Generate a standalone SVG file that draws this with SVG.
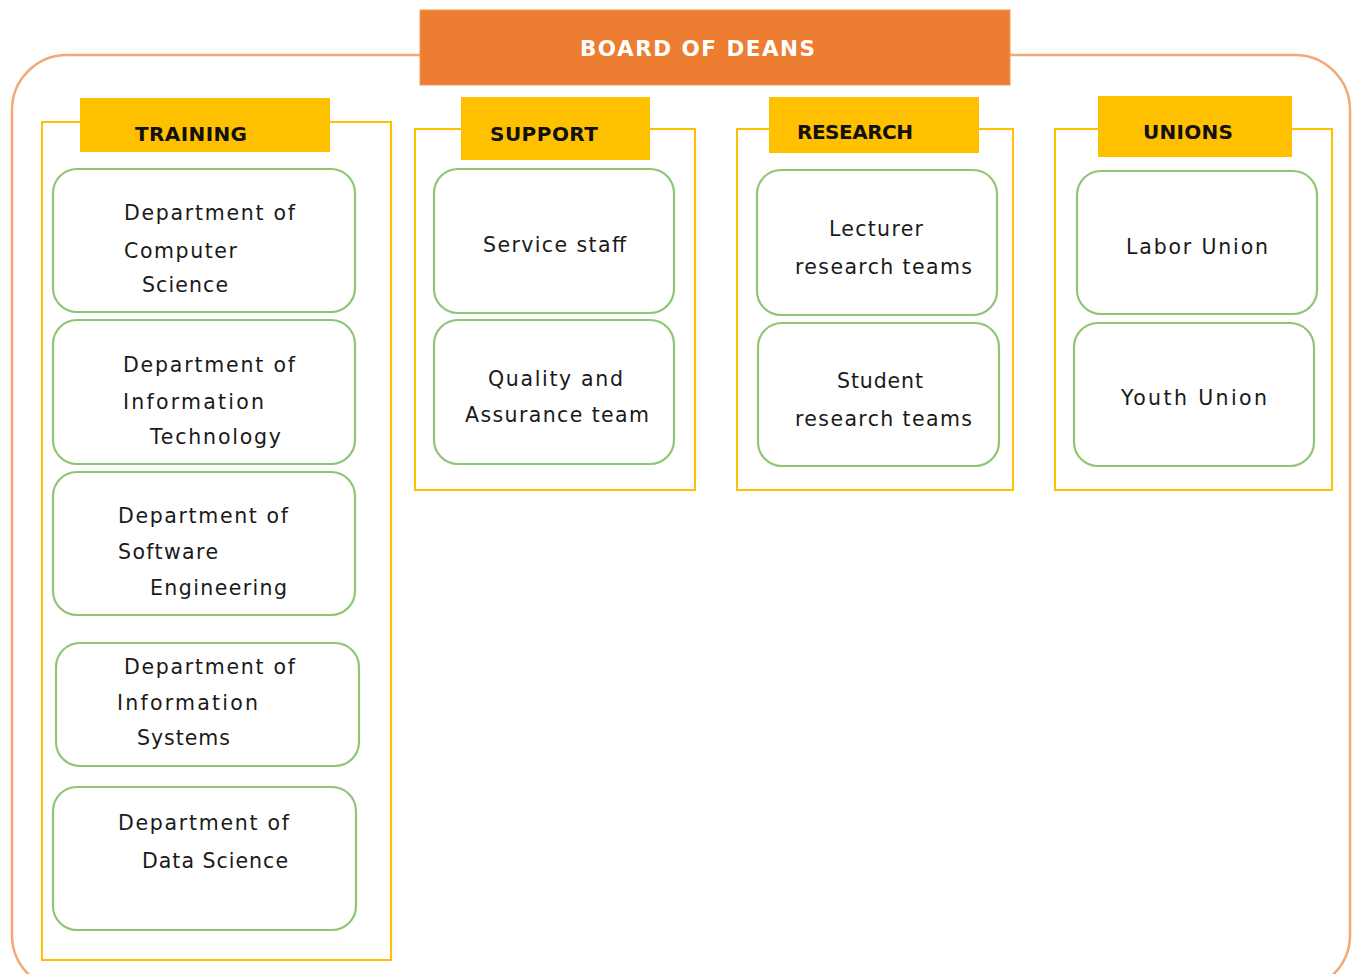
<svg xmlns="http://www.w3.org/2000/svg" width="1358" height="974" viewBox="0 0 1358 974">
  <style>
    .frame { fill: none; stroke: #F3A877; stroke-width: 2.5; }
    .board { fill: #ED7D31; stroke: #F19A5E; stroke-width: 1; }
    .board-text { font-family: "DejaVu Sans", Verdana, sans-serif; font-weight: bold; font-size: 21.5px; fill: #FFFFFF; }
    .panel { fill: none; stroke: #FFC000; stroke-width: 2; }
    .tab { fill: #FFC000; }
    .tab-text { font-family: "DejaVu Sans", Verdana, sans-serif; font-weight: bold; font-size: 20px; fill: #111111; }
    .unit { fill: #FFFFFF; stroke: #8FC573; stroke-width: 2.2; }
    .unit-text { font-family: "DejaVu Sans", Verdana, sans-serif; font-size: 20.5px; fill: #1A1A1A; }
  </style>

  <rect width="1358" height="974" fill="#FFFFFF"/>

  <!-- outer faculty frame -->
  <g id="frame">
    <rect class="frame" x="12" y="55" width="1338" height="935" rx="55" ry="55"/>
  </g>

  <!-- top node -->
  <g id="board-of-deans">
    <rect class="board" x="420" y="10" width="590" height="75"/>
    <text class="board-text" x="580" y="56" textLength="235" lengthAdjust="spacing">BOARD OF DEANS</text>
  </g>

  <!-- TRAINING column -->
  <g id="training">
    <rect class="panel" x="42" y="122" width="349" height="838"/>
    <rect class="tab" x="80" y="98" width="250" height="54"/>
    <text class="tab-text" x="135" y="141" textLength="112" lengthAdjust="spacing">TRAINING</text>
  </g>
  <g id="dept-computer-science">
    <rect class="unit" x="53" y="169" width="302" height="143" rx="24"/>
    <text class="unit-text" x="124" y="220" textLength="171" lengthAdjust="spacing">Department of</text>
    <text class="unit-text" x="124" y="258" textLength="113" lengthAdjust="spacing">Computer</text>
    <text class="unit-text" x="142" y="292" textLength="86" lengthAdjust="spacing">Science</text>
  </g>
  <g id="dept-information-technology">
    <rect class="unit" x="53" y="320" width="302" height="144" rx="24"/>
    <text class="unit-text" x="123" y="372" textLength="172" lengthAdjust="spacing">Department of</text>
    <text class="unit-text" x="123" y="409" textLength="141" lengthAdjust="spacing">Information</text>
    <text class="unit-text" x="150" y="444" textLength="131" lengthAdjust="spacing">Technology</text>
  </g>
  <g id="dept-software-engineering">
    <rect class="unit" x="53" y="472" width="302" height="143" rx="24"/>
    <text class="unit-text" x="118" y="523" textLength="170" lengthAdjust="spacing">Department of</text>
    <text class="unit-text" x="118" y="559" textLength="100" lengthAdjust="spacing">Software</text>
    <text class="unit-text" x="150" y="595" textLength="137" lengthAdjust="spacing">Engineering</text>
  </g>
  <g id="dept-information-systems">
    <rect class="unit" x="56" y="643" width="303" height="123" rx="24"/>
    <text class="unit-text" x="124" y="674" textLength="171" lengthAdjust="spacing">Department of</text>
    <text class="unit-text" x="117" y="710" textLength="141" lengthAdjust="spacing">Information</text>
    <text class="unit-text" x="137" y="745" textLength="93" lengthAdjust="spacing">Systems</text>
  </g>
  <g id="dept-data-science">
    <rect class="unit" x="53" y="787" width="303" height="143" rx="24"/>
    <text class="unit-text" x="118" y="830" textLength="171" lengthAdjust="spacing">Department of</text>
    <text class="unit-text" x="142" y="868" textLength="146" lengthAdjust="spacing">Data Science</text>
  </g>

  <!-- SUPPORT column -->
  <g id="support">
    <rect class="panel" x="415" y="129" width="280" height="361"/>
    <rect class="tab" x="461" y="97" width="189" height="63"/>
    <text class="tab-text" x="490" y="141" textLength="108" lengthAdjust="spacing">SUPPORT</text>
  </g>
  <g id="service-staff">
    <rect class="unit" x="434" y="169" width="240" height="144" rx="24"/>
    <text class="unit-text" x="483" y="252" textLength="143" lengthAdjust="spacing">Service staff</text>
  </g>
  <g id="quality-assurance-team">
    <rect class="unit" x="434" y="320" width="240" height="144" rx="24"/>
    <text class="unit-text" x="488" y="386" textLength="135" lengthAdjust="spacing">Quality and</text>
    <text class="unit-text" x="465" y="422" textLength="184" lengthAdjust="spacing">Assurance team</text>
  </g>

  <!-- RESEARCH column -->
  <g id="research">
    <rect class="panel" x="737" y="129" width="276" height="361"/>
    <rect class="tab" x="769" y="97" width="210" height="56"/>
    <text class="tab-text" x="797" y="139" textLength="116" lengthAdjust="spacing">RESEARCH</text>
  </g>
  <g id="lecturer-research-teams">
    <rect class="unit" x="757" y="170" width="240" height="145" rx="24"/>
    <text class="unit-text" x="829" y="236" textLength="94" lengthAdjust="spacing">Lecturer</text>
    <text class="unit-text" x="795" y="274" textLength="177" lengthAdjust="spacing">research teams</text>
  </g>
  <g id="student-research-teams">
    <rect class="unit" x="758" y="323" width="241" height="143" rx="24"/>
    <text class="unit-text" x="837" y="388" textLength="86" lengthAdjust="spacing">Student</text>
    <text class="unit-text" x="795" y="426" textLength="177" lengthAdjust="spacing">research teams</text>
  </g>

  <!-- UNIONS column -->
  <g id="unions">
    <rect class="panel" x="1055" y="129" width="277" height="361"/>
    <rect class="tab" x="1098" y="96" width="194" height="61"/>
    <text class="tab-text" x="1143" y="139" textLength="90" lengthAdjust="spacing">UNIONS</text>
  </g>
  <g id="labor-union">
    <rect class="unit" x="1077" y="171" width="240" height="143" rx="24"/>
    <text class="unit-text" x="1126" y="254" textLength="142" lengthAdjust="spacing">Labor Union</text>
  </g>
  <g id="youth-union">
    <rect class="unit" x="1074" y="323" width="240" height="143" rx="24"/>
    <text class="unit-text" x="1121" y="405" textLength="146" lengthAdjust="spacing">Youth Union</text>
  </g>
</svg>
